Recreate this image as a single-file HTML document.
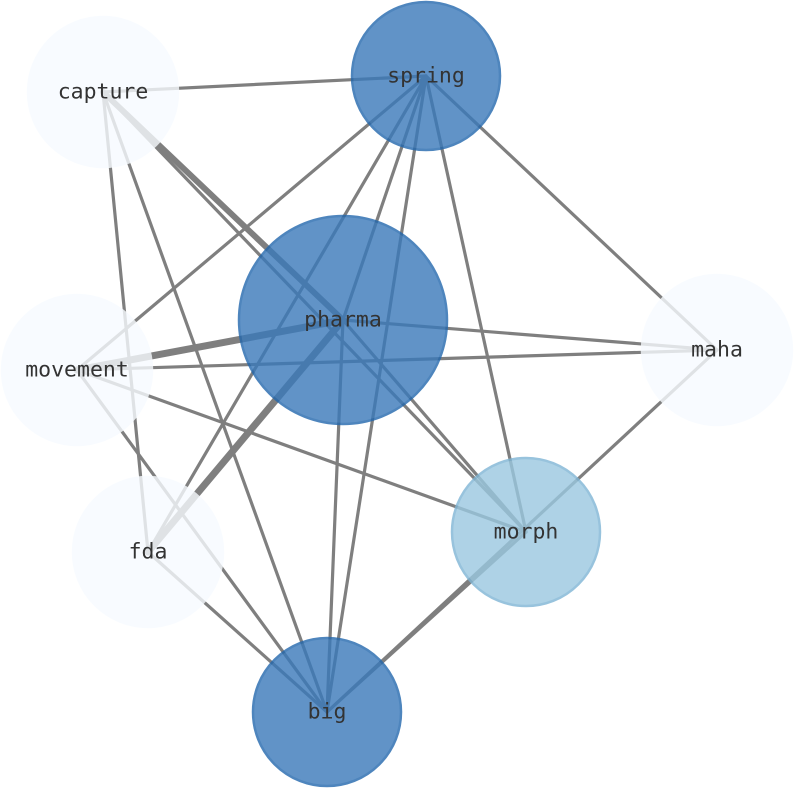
<!DOCTYPE html>
<html><head><style>html,body{margin:0;padding:0;background:#fff;}</style></head>
<body>
<svg width="794" height="790" xmlns="http://www.w3.org/2000/svg">
<g stroke="#7f7f7f" stroke-width="3.2" stroke-linecap="round">
<line x1="103" y1="92" x2="426" y2="76"/>
<line x1="103" y1="92" x2="343" y2="320" stroke-width="6"/>
<line x1="103" y1="92" x2="526" y2="532"/>
<line x1="103" y1="92" x2="327" y2="712"/>
<line x1="103" y1="92" x2="148" y2="552"/>
<line x1="426" y1="76" x2="77" y2="370"/>
<line x1="426" y1="76" x2="343" y2="320"/>
<line x1="426" y1="76" x2="148" y2="552"/>
<line x1="426" y1="76" x2="327" y2="712"/>
<line x1="426" y1="76" x2="526" y2="532"/>
<line x1="426" y1="76" x2="717" y2="350"/>
<line x1="343" y1="320" x2="77" y2="370" stroke-width="7"/>
<line x1="343" y1="320" x2="717" y2="350"/>
<line x1="343" y1="320" x2="148" y2="552" stroke-width="7"/>
<line x1="343" y1="320" x2="327" y2="712"/>
<line x1="343" y1="320" x2="526" y2="532"/>
<line x1="77" y1="370" x2="717" y2="350"/>
<line x1="77" y1="370" x2="526" y2="532"/>
<line x1="77" y1="370" x2="327" y2="712"/>
<line x1="717" y1="350" x2="327" y2="712"/>
<line x1="148" y1="552" x2="327" y2="712"/>
<line x1="526" y1="532" x2="327" y2="712"/>
</g>
<g opacity="0.8" stroke-width="2.5">
<circle cx="103" cy="92" r="75" fill="#f7fbff" stroke="#f7fbff"/>
<circle cx="77" cy="370" r="75" fill="#f7fbff" stroke="#f7fbff"/>
<circle cx="717" cy="350" r="75" fill="#f7fbff" stroke="#f7fbff"/>
<circle cx="148" cy="552" r="75" fill="#f7fbff" stroke="#f7fbff"/>
<circle cx="426" cy="76" r="74" fill="#3a79ba" stroke="#2267ad"/>
<circle cx="343" cy="320" r="104" fill="#3a79ba" stroke="#2267ad"/>
<circle cx="327" cy="712" r="74" fill="#3a79ba" stroke="#2267ad"/>
<circle cx="526" cy="532" r="74" fill="#9ac8e0" stroke="#7fb5d5"/>
</g>
<g font-family="DejaVu Sans Mono, Liberation Mono, monospace" font-size="21.5" fill="#333" text-anchor="middle" dominant-baseline="central">
<text x="103" y="92">capture</text>
<text x="426" y="76">spring</text>
<text x="343" y="320">pharma</text>
<text x="77" y="370">movement</text>
<text x="717" y="350">maha</text>
<text x="148" y="552">fda</text>
<text x="526" y="532">morph</text>
<text x="327" y="712">big</text>
</g>
</svg>
</body></html>
